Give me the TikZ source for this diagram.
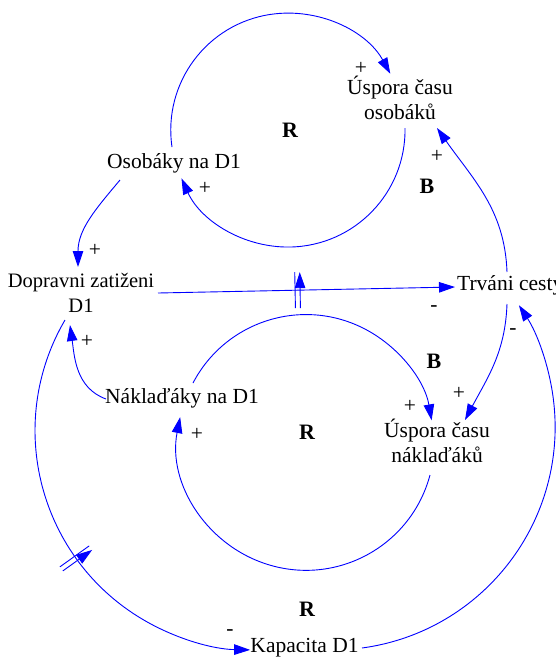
\documentclass[tikz,border=0pt]{standalone}
\usepackage{fontspec}
\setmainfont{Liberation Serif}
\usetikzlibrary{arrows.meta,decorations.markings}
\begin{document}
\begin{tikzpicture}[x=1pt,y=1pt,
  lbl/.style={font=\fontsize{21.5}{25}\selectfont, align=center, inner sep=0pt, text=black},
  loopname/.style={font=\fontsize{22}{24}\selectfont\bfseries, inner sep=0pt},
  pol/.style={font=\fontsize{21.5}{24}\selectfont, inner sep=0pt},
  link/.style={draw=blue, line width=0.9pt, -{Triangle[length=16pt,width=10.5pt]}},
  delaymark/.style={postaction={decorate, decoration={markings, mark=at position #1 with {\draw[blue,line width=0.9pt] (-2.5pt,-18pt) -- (-2.5pt,18pt) (2.5pt,-18pt) -- (2.5pt,18pt);}}}}
]
\useasboundingbox (0,0) rectangle (556,-657);
\fill[white] (0,0) rectangle (556,-657);

% variables
\node[lbl] (uso) at (400,-97.8) {Úspora času\\osobáků};
\node[lbl] (osob) at (174,-163) {Osobáky na D1};
\node[lbl, font=\fontsize{20.5}{25}\selectfont] (dop) at (81,-293) {Dopravni zatiženi\\D1};
\node[lbl, anchor=west] (trv) at (457,-285) {Trváni cesty};
\node[lbl] (nak) at (182,-398) {Náklaďáky na D1};
\node[lbl] (usn) at (437,-440.8) {Úspora času\\náklaďáků};
\node[lbl] (kap) at (304.5,-648) {Kapacita D1};

% loop names
\node[loopname] (r1) at (290,-130) {R};
\node[loopname] (b1) at (427,-186) {B};
\node[loopname] (b2) at (434,-361) {B};
\node[loopname] (r2) at (307,-432) {R};
\node[loopname] (r3) at (307,-609) {R};

% polarities
\node[pol] (p1) at (361,-68) {+};
\node[pol] (p2) at (437,-156) {+};
\node[pol] (p3) at (205,-188) {+};
\node[pol] (p4) at (95,-250) {+};
\node[pol] (p5) at (434,-309) {-};
\node[pol] (p6) at (513,-332) {-};
\node[pol] (p7) at (87,-341) {+};
\node[pol] (p8) at (459,-393) {+};
\node[pol] (p9) at (410,-406) {+};
\node[pol] (p10) at (197,-434) {+};
\node[pol] (p11) at (230,-633) {-};

% links
\draw[link] ([shift={(-2,16)}]osob.center) arc[start angle=188.3, end angle=28.8, radius=117];
\draw[link] ([shift={(5,-30.2)}]uso.center) arc[start angle=1, end angle=-155.6, radius=117];
\draw[link] ([shift={(-54,-17)}]osob.center) to[out=230,in=90] ([shift={(-3,26)}]dop.center);
\draw[link, delaymark=0.47] ([shift={(77,0)}]dop.center) -- ([shift={(-2,-2)}]trv.west);
\draw[link] ([shift={(50,13)}]trv.west) to[out=92,in=-55] ([shift={(37,-30.2)}]uso.center);
\draw[link] ([shift={(50,-19)}]trv.west) to[out=-92,in=62] ([shift={(28,20.8)}]usn.center);
\draw[link] ([shift={(57.5,0)}]kap.center) arc[start angle=-82.3, end angle=33.1, radius=223];
\draw[link] ([shift={(11,15)}]nak.center) arc[start angle=152.4, end angle=9.8, radius=127.5];
\draw[link] ([shift={(-7,-34.2)}]usn.center) arc[start angle=-14.9, end angle=-191.2, radius=128.3];
\draw[link] ([shift={(-76,-1)}]nak.center) to[out=160,in=-82] ([shift={(-11,-32)}]dop.center);
\draw[link, delaymark=0.553] ([shift={(-16,-27)}]dop.center) arc[start angle=149.7, end angle=268.9, radius=219.3];
\end{tikzpicture}
\end{document}
